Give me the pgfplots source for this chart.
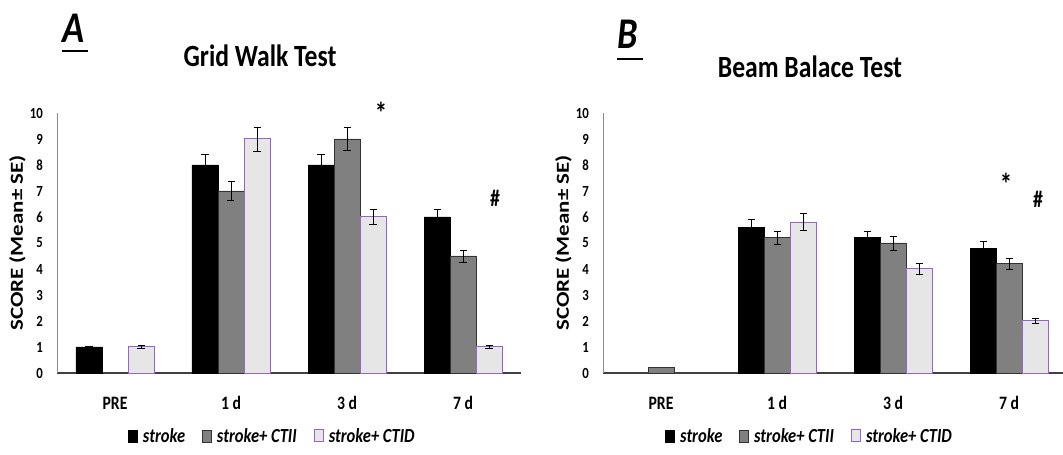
\documentclass[border=0pt]{standalone}
\usepackage{fontspec}
\setmainfont{Carlito}[FakeStretch=0.83]
\newfontfamily\plainfont{Carlito}
\usepackage{pgfplots}
\pgfplotsset{compat=1.18}
\definecolor{ctii}{RGB}{128,128,128}
\definecolor{ctid}{RGB}{230,230,230}
\definecolor{purp}{RGB}{150,100,200}

\pgfplotsset{panel/.style={
  scale only axis, width=464bp, height=260bp,
  xmin=-0.5, xmax=3.5, ymin=0, ymax=10,
  xtick={0,1,2,3}, xticklabels={PRE,1 d,3 d,7 d},
  ytick={0,1,...,10},
  ybar=0pt, bar width=26bp,
  axis x line=bottom, axis y line=left,
  axis line style={-},
  x axis line style={draw=black!75, line width=1.3bp},
  y axis line style={draw=black!45, line width=0.9bp},
  major tick length=0pt,
  tick style={draw=none},
  clip=false,
  /pgf/number format/assume math mode=true,
  yticklabel style={font=\bfseries\fontsize{15.5}{16}\selectfont, inner sep=0pt, anchor=east, xshift=-14bp},
  xticklabel style={font=\bfseries\fontsize{19}{20}\selectfont, inner sep=0pt, anchor=base, yshift=-36bp},
  ylabel={\scalebox{1}[0.8]{\plainfont\bfseries\fontsize{23}{24}\selectfont SCORE (Mean± SE)}},
  ylabel style={at={(axis description cs:-0.0851,0.5)}, anchor=center},
  error bars/y dir=both, error bars/y explicit,
  error bars/error bar style={line width=0.8bp, black},
  error bars/error mark options={rotate=90, line width=0.8bp, black, mark size=3.5bp},
  legend columns=3,
  legend style={draw=none, fill=none, anchor=west, inner sep=0pt,
    font=\bfseries\itshape\fontsize{20}{20}\selectfont, nodes={inner sep=0pt},
    /tikz/every odd column/.append style={column sep=5bp},
    /tikz/every even column/.append style={column sep=17bp}},
}}

\begin{document}
\begin{tikzpicture}
\useasboundingbox (0bp,0bp) rectangle (1063bp,455bp);

% ---------------- Panel A ----------------
\begin{axis}[panel, at={(57bp,82bp)}, anchor=south west,
  legend style={at={(0.153,-0.242)}}]
\addplot[fill=black, draw=black, line width=0.8bp,
  legend image code/.code={\draw[fill=black,draw=black] (0bp,-6bp) rectangle (9bp,6bp);}]
  coordinates {(0,1) +- (0,0.03) (1,8) +- (0,0.4) (2,8) +- (0,0.4) (3,6) +- (0,0.3)};
\addplot[fill=ctii, draw=black!80, line width=0.8bp,
  legend image code/.code={\draw[fill=ctii,draw=black!80] (0bp,-6bp) rectangle (9bp,6bp);}]
  coordinates {(1,7) +- (0,0.38) (2,9) +- (0,0.45) (3,4.5) +- (0,0.23)};
\addplot[fill=ctid, draw=purp, line width=1bp,
  legend image code/.code={\draw[fill=ctid,draw=purp,line width=1bp] (0bp,-6bp) rectangle (9bp,6bp);}]
  coordinates {(0,1) +- (0,0.05) (1,9) +- (0,0.46) (2,6) +- (0,0.3) (3,1) +- (0,0.05)};
\legend{stroke, stroke+ CTII, stroke+ CTID}
\node[font=\bfseries\fontsize{30}{30}\selectfont] at (axis cs:2.293,10.0) {*};
\node[font=\bfseries\fontsize{24}{24}\selectfont] at (axis cs:3.276,6.73) {\#};
\end{axis}

% ---------------- Panel B ----------------
\begin{axis}[panel, at={(603bp,82bp)}, anchor=south west,
  legend style={at={(0.134,-0.242)}}]
\addplot[fill=black, draw=black, line width=0.8bp,
  legend image code/.code={\draw[fill=black,draw=black] (0bp,-6bp) rectangle (9bp,6bp);}]
  coordinates {(1,5.6) +- (0,0.3) (2,5.2) +- (0,0.25) (3,4.8) +- (0,0.25)};
\addplot[fill=ctii, draw=black!80, line width=0.8bp,
  legend image code/.code={\draw[fill=ctii,draw=black!80] (0bp,-6bp) rectangle (9bp,6bp);}]
  coordinates {(0,0.2) (1,5.2) +- (0,0.25) (2,5.0) +- (0,0.27) (3,4.2) +- (0,0.22)};
\addplot[fill=ctid, draw=purp, line width=1bp,
  legend image code/.code={\draw[fill=ctid,draw=purp,line width=1bp] (0bp,-6bp) rectangle (9bp,6bp);}]
  coordinates {(1,5.8) +- (0,0.32) (2,4.0) +- (0,0.2) (3,2.0) +- (0,0.1)};
\legend{stroke, stroke+ CTII, stroke+ CTID}
\node[font=\bfseries\fontsize{30}{30}\selectfont] at (axis cs:2.974,7.26) {*};
\node[font=\bfseries\fontsize{24}{24}\selectfont] at (axis cs:3.25,6.69) {\#};
\end{axis}

% ---------------- Titles ----------------
\node[anchor=base, inner sep=0pt, font=\bfseries\fontsize{31}{32}\selectfont] at (260bp,388bp) {Grid Walk Test};
\node[anchor=base, inner sep=0pt, font=\bfseries\fontsize{31}{32}\selectfont] at (810bp,377bp) {Beam Balace Test};
\node[anchor=base west, inner sep=0pt, font=\bfseries\itshape\fontsize{44}{44}\selectfont] at (62bp,412bp) {A};
\draw[line width=2.2bp] (62bp,404bp) -- (88bp,404bp);
\node[anchor=base west, inner sep=0pt, font=\bfseries\itshape\fontsize{44}{44}\selectfont] at (617bp,406bp) {B};
\draw[line width=2.2bp] (617bp,396bp) -- (643bp,396bp);
\end{tikzpicture}
\end{document}
